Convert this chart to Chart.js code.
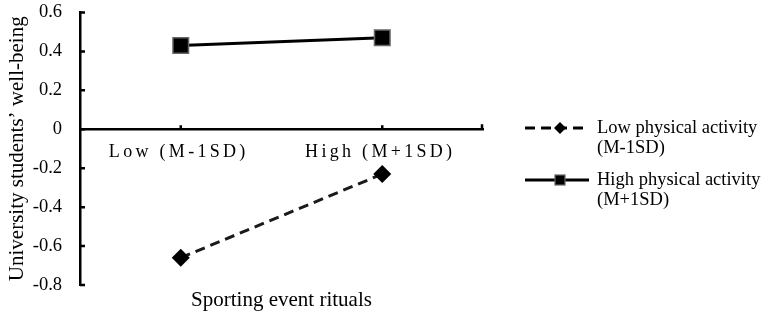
<!DOCTYPE html>
<html>
<head>
<meta charset="utf-8">
<script src="https://cdn.jsdelivr.net/npm/chart.js@4.4.1/dist/chart.umd.min.js"></script>
<style>
  html, body { margin: 0; padding: 0; background: #fff; }
  #wrap { position: relative; width: 767px; height: 315px; }
  #legend { position: absolute; left: 524px; top: 0; font-family: "Liberation Serif", "Times New Roman", serif; font-size: 18.5px; line-height: 19.5px; color: #000; }
  .item { position: absolute; left: 0; width: 243px; }
  .item svg { position: absolute; left: 0; top: 0; }
  .item div { position: absolute; left: 73px; top: 0; white-space: nowrap; }
</style>
</head>
<body>
<div id="wrap">
  <canvas id="chart" width="767" height="315"></canvas>
  <div id="legend"></div>
</div>
<script>
const categories = ["Low (M-1SD)", "High (M+1SD)"];
const lowActivity = [-0.66, -0.23];
const highActivity = [0.43, 0.47];
const yTicks = [-0.8, -0.6, -0.4, -0.2, 0, 0.2, 0.4, 0.6];
const seriesNames = [
    ["Low physical activity", "(M-1SD)"],
    ["High physical activity", "(M+1SD)"]
];
const fontFamily = '"Liberation Serif", "Times New Roman", serif';

// inner tick marks + letter-spaced category labels on the zero line
const axisMarks = {
    id: "axisMarks",
    beforeDatasetsDraw(chart) {
        const { ctx, scales: { x, y } } = chart;
        const y0 = y.getPixelForValue(0);
        ctx.save();
        ctx.strokeStyle = "#000";
        ctx.lineWidth = 2.5;
        ctx.beginPath();
        y.ticks.forEach(t => {
            const py = y.getPixelForValue(t.value);
            ctx.moveTo(y.right, py);
            ctx.lineTo(y.right + 5, py);
        });
        categories.forEach((c, i) => {
            const px = x.getPixelForValue(i);
            ctx.moveTo(px, y0);
            ctx.lineTo(px, y0 - 4);
        });
        ctx.moveTo(x.right - 1, y0);
        ctx.lineTo(x.right - 1, y0 - 5);
        ctx.stroke();

        ctx.fillStyle = "#000";
        ctx.font = "18px " + fontFamily;
        ctx.letterSpacing = "3.3px";
        ctx.textAlign = "center";
        ctx.textBaseline = "middle";
        categories.forEach((c, i) => {
            ctx.fillText(c, x.getPixelForValue(i) - 2, y0 + 23);
        });
        ctx.restore();
    }
};

new Chart(document.getElementById("chart"), {
    type: "line",
    data: {
        labels: categories,
        datasets: [{
            label: seriesNames[0].join(" "),
            data: lowActivity,
            borderColor: "#1a1a1a",
            borderWidth: 3,
            borderDash: [10, 6],
            pointStyle: "rectRot",
            pointRadius: 9,
            pointBackgroundColor: "#000",
            pointBorderColor: "#000",
            pointBorderWidth: 0
        }, {
            label: seriesNames[1].join(" "),
            data: highActivity,
            borderColor: "#000",
            borderWidth: 3,
            pointStyle: "rect",
            pointRadius: 11,
            pointBackgroundColor: "#000",
            pointBorderColor: "#666",
            pointBorderWidth: 1.5
        }]
    },
    options: {
        responsive: false,
        animation: false,
        layout: { padding: { top: 12, right: 284, left: 0, bottom: 0 } },
        plugins: {
            legend: { display: false },
            tooltip: { enabled: false }
        },
        scales: {
            y: {
                min: -0.8,
                max: 0.6,
                afterFit: s => {
                    s.width = 80;
                    s.paddingTop = 0;
                    s.paddingBottom = 0;
                },
                afterBuildTicks: s => { s.ticks = yTicks.map(v => ({ value: v })); },
                grid: { display: false, drawTicks: false },
                border: { display: true, color: "#000", width: 2.5 },
                ticks: {
                    padding: 18,
                    color: "#000",
                    font: { family: fontFamily, size: 18.5 },
                    callback: v => v === 0 ? "0" : v.toFixed(1)
                },
                title: {
                    display: true,
                    text: "University students\u2019 well-being",
                    color: "#000",
                    font: { family: fontFamily, size: 21 },
                    padding: { top: 5, bottom: 0 }
                }
            },
            x: {
                type: "category",
                offset: true,
                position: { y: 0 },
                grid: { display: false, drawTicks: false },
                border: { display: true, color: "#000", width: 2.5 },
                ticks: { display: false }
            },
            xt: {
                type: "category",
                position: "bottom",
                offset: true,
                afterFit: s => {
                    s.height = 30;
                    s.paddingLeft = 0;
                    s.paddingRight = 0;
                },
                grid: { display: false, drawTicks: false },
                border: { display: false },
                ticks: { display: false },
                title: {
                    display: true,
                    text: "Sporting event rituals",
                    color: "#000",
                    font: { family: fontFamily, size: 21 },
                    padding: { top: 0, bottom: 2 }
                }
            }
        }
    },
    plugins: [axisMarks]
});

// legend
const samples = [
    '<line x1="1" y1="10" x2="65" y2="10" stroke="#000" stroke-width="3" stroke-dasharray="10,6"/>' +
    '<polygon points="36,4 42,10 36,16 30,10" fill="#000"/>',
    '<line x1="1" y1="10" x2="65" y2="10" stroke="#000" stroke-width="3"/>' +
    '<rect x="31" y="5" width="10" height="10" fill="#000" stroke="#666" stroke-width="1.2"/>'
];
const legendTops = [118, 170];
const legend = document.getElementById("legend");
seriesNames.forEach((lines, i) => {
    const item = document.createElement("div");
    item.className = "item";
    item.style.top = legendTops[i] + "px";
    item.innerHTML = '<svg width="66" height="20">' + samples[i] + '</svg>' +
        '<div>' + lines.join("<br>") + '</div>';
    legend.appendChild(item);
});
</script>
</body>
</html>
